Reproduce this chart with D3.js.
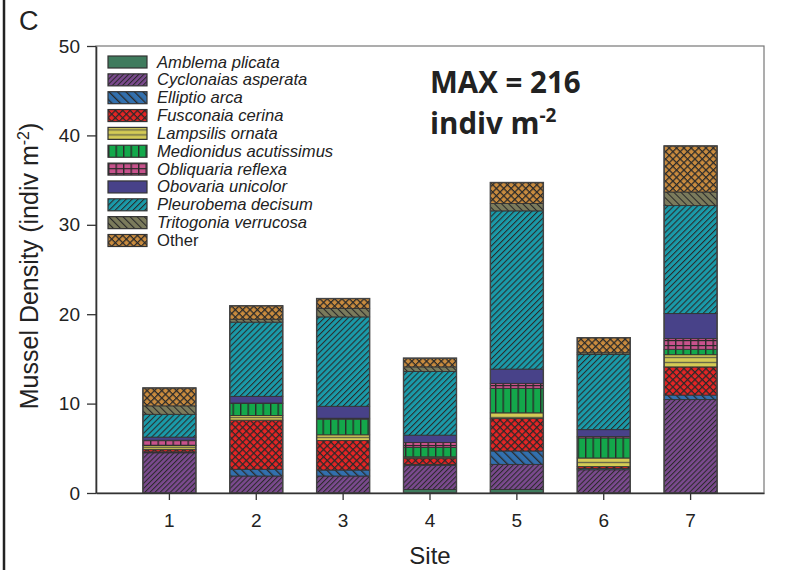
<!DOCTYPE html>
<html lang="en">
  <head>
    <meta charset="UTF-8" />
    <script src="https://cdn.jsdelivr.net/npm/d3@7"></script>
    <style>
      body { margin: 0; background: #fff; }
      text { font-family: "Liberation Sans", Arial, sans-serif; fill: #222; }
    </style>
  </head>
  <body>
    <div id="fig"></div>
    <script>
      const width = 794, height = 570;

      const sites = ["1", "2", "3", "4", "5", "6", "7"];
      const species = [
        "Amblema plicata", "Cyclonaias asperata", "Elliptio arca", "Fusconaia cerina",
        "Lampsilis ornata", "Medionidus acutissimus", "Obliquaria reflexa",
        "Obovaria unicolor", "Pleurobema decisum", "Tritogonia verrucosa", "Other"
      ];
      // density per site (indiv m-2), one array per species, site 1..7
      const amblema     = [0,    0,    0,    0.4,  0.4,  0,    0];
      const cyclonaias  = [4.5,  1.9,  1.9,  2.7,  2.8,  2.6,  10.45];
      const elliptio    = [0.1,  0.75, 0.67, 0.1,  1.5,  0.15, 0.5];
      const fusconaia   = [0.25, 5.5,  3.3,  0.7,  3.65, 0.2,  3.15];
      const lampsilis   = [0.45, 0.52, 0.64, 0.15, 0.62, 0.97, 1.37];
      const medionidus  = [0.05, 1.34, 1.75, 1.04, 2.73, 2.24, 0.6];
      const obliquaria  = [0.55, 0.05, 0.1,  0.56, 0.56, 0.15, 1.2];
      const obovaria    = [0.35, 0.75, 1.34, 0.82, 1.6,  0.78, 2.8];
      const pleurobema  = [2.55, 8.3,  10.0, 7.12, 17.7, 8.4,  12.08];
      const tritogonia  = [0.95, 0.33, 0.95, 0.52, 0.82, 0.2,  1.52];
      const other       = [2.0,  1.5,  1.1,  0.97, 2.35, 1.68, 5.15];
      const seriesValues = [amblema, cyclonaias, elliptio, fusconaia, lampsilis,
        medionidus, obliquaria, obovaria, pleurobema, tritogonia, other];
      const yTicks = [0, 10, 20, 30, 40, 50];

      const colors = ["#3f7b5d", "#7b4a8f", "#3270ae", "#e52424", "#d4cb55", "#13a84b",
        "#c8528c", "#484289", "#1a9aa9", "#7b7b5c", "#c98b3e"];
      const hatch = ["solid", "fwd", "back", "cross", "horiz", "vert", "grid", "solid", "fwd2", "back2", "cross"];

      const margins = { top: 46, right: 30, bottom: 77, left: 96 };

      const svg = d3.select("#fig").append("svg")
        .attr("width", width).attr("height", height);

      const defs = svg.append("defs");
      const ink = "#2a2a2a";
      hatch.forEach((h, i) => {
        const id = "pat" + i;
        let size = 4, rot = 0;
        if (h === "fwd") { size = 3.6; rot = 45; }
        if (h === "fwd2") { size = 4.2; rot = 45; }
        if (h === "back") { size = 6; rot = -45; }
        if (h === "back2") { size = 5; rot = -45; }
        if (h === "cross") { size = 5.2; rot = 45; }
        if (h === "horiz") { size = 5; }
        if (h === "vert") { size = 7.5; }
        const p = defs.append("pattern").attr("id", id)
          .attr("patternUnits", "userSpaceOnUse")
          .attr("width", h === "grid" ? 7.5 : size)
          .attr("height", h === "grid" ? 5 : size);
        if (rot) p.attr("patternTransform", `rotate(${rot})`);
        p.append("rect").attr("width", 10).attr("height", 10).attr("fill", colors[i]);
        if (h === "fwd" || h === "fwd2" || h === "back" || h === "back2") {
          p.append("line").attr("x1", 0.5).attr("x2", 0.5).attr("y1", 0).attr("y2", size)
            .attr("stroke", ink).attr("stroke-width", h === "back" ? 1.6 : 1.1);
        }
        if (h === "cross") {
          p.append("line").attr("x1", 0.6).attr("x2", 0.6).attr("y1", 0).attr("y2", size)
            .attr("stroke", ink).attr("stroke-width", 1.3);
          p.append("line").attr("y1", 0.6).attr("y2", 0.6).attr("x1", 0).attr("x2", size)
            .attr("stroke", ink).attr("stroke-width", 1.3);
        }
        if (h === "horiz") {
          p.append("line").attr("y1", 2.5).attr("y2", 2.5).attr("x1", 0).attr("x2", size)
            .attr("stroke", "#6a6a4a").attr("stroke-width", 1.4);
        }
        if (h === "vert" || h === "grid") {
          p.append("line").attr("x1", 0.7).attr("x2", 0.7).attr("y1", 0).attr("y2", 10)
            .attr("stroke", ink).attr("stroke-width", 1.4);
        }
        if (h === "grid") {
          p.append("line").attr("y1", 0.6).attr("y2", 0.6).attr("x1", 0).attr("x2", 10)
            .attr("stroke", ink).attr("stroke-width", 1.2);
        }
      });

      const x = d3.scaleBand()
        .domain(sites)
        .range([margins.left, width - margins.right])
        .paddingInner(0.39)
        .paddingOuter(0.54);

      const y = d3.scaleLinear()
        .domain([0, 50])
        .range([height - margins.bottom, margins.top]);

      // panel border on the left
      svg.append("line").attr("x1", 4).attr("x2", 4).attr("y1", 0).attr("y2", height)
        .attr("stroke", "#222").attr("stroke-width", 2.5);

      // frame
      svg.append("rect")
        .attr("x", margins.left).attr("y", margins.top)
        .attr("width", width - margins.right - margins.left)
        .attr("height", height - margins.bottom - margins.top)
        .attr("fill", "none").attr("stroke", "#777").attr("stroke-width", 1.2);

      // stacked bars
      const table = sites.map((s, j) => {
        const row = { site: s };
        species.forEach((sp, i) => (row[sp] = seriesValues[i][j]));
        return row;
      });
      const stacked = d3.stack().keys(species)(table);
      const totals = sites.map((s, j) => d3.sum(seriesValues, (v) => v[j]));

      const barG = svg.append("g");
      stacked.forEach((layer, i) => {
        barG.selectAll(null)
          .data(layer)
          .join("rect")
          .attr("x", (d) => x(d.data.site))
          .attr("width", x.bandwidth())
          .attr("y", (d) => y(d[1]))
          .attr("height", (d) => y(d[0]) - y(d[1]))
          .attr("fill", `url(#pat${i})`)
          .attr("stroke", "#333")
          .attr("stroke-width", 0.9);
      });
      // bar outlines
      barG.selectAll(".outline")
        .data(sites)
        .join("rect")
        .attr("class", "outline")
        .attr("x", (d) => x(d))
        .attr("width", x.bandwidth())
        .attr("y", (d, j) => y(totals[j]))
        .attr("height", (d, j) => y(0) - y(totals[j]))
        .attr("fill", "none")
        .attr("stroke", "#444")
        .attr("stroke-width", 1.4);

      // axes
      const yAxis = svg.append("g")
        .attr("transform", `translate(${margins.left},0)`)
        .call(d3.axisLeft(y).tickValues(yTicks).tickSize(9).tickSizeOuter(0).tickPadding(7));
      const xAxis = svg.append("g")
        .attr("transform", `translate(0,${y(0)})`)
        .call(d3.axisBottom(x).tickSize(7).tickSizeOuter(0).tickPadding(14));
      [yAxis, xAxis].forEach((g) => {
        g.select(".domain").attr("stroke", "#333").attr("stroke-width", 1.6);
        g.selectAll(".tick line").attr("stroke", "#333").attr("stroke-width", 1.3);
        g.selectAll(".tick text").style("font-family", "Liberation Sans, Arial, sans-serif")
          .style("font-size", "19px").attr("fill", "#2a2a2a");
      });

      // axis titles
      svg.append("text")
        .attr("transform", "translate(38,266) rotate(-90)")
        .attr("text-anchor", "middle")
        .style("font-size", "25px")
        .html('Mussel Density (indiv m<tspan dy="-9" font-size="16px">-2</tspan><tspan dy="9">)</tspan>');
      svg.append("text")
        .attr("x", (margins.left + width - margins.right) / 2)
        .attr("y", 564)
        .attr("text-anchor", "middle")
        .style("font-size", "24px")
        .text("Site");

      svg.append("text").attr("x", 19).attr("y", 30)
        .style("font-size", "27px").attr("fill", "#333").text("C");

      // legend
      const legend = svg.append("g").attr("transform", "translate(108,56)");
      species.forEach((sp, i) => {
        const row = legend.append("g").attr("transform", `translate(0,${i * 17.85})`);
        row.append("rect").attr("width", 39).attr("height", 12)
          .attr("fill", `url(#pat${i})`).attr("stroke", "#333").attr("stroke-width", 1.2);
        row.append("text").attr("x", 49).attr("y", 11.5)
          .style("font-size", "16.6px")
          .style("font-style", sp === "Other" ? "normal" : "italic")
          .attr("fill", "#333")
          .text(sp);
      });

      // annotation
      const ann = svg.append("g").style("font-weight", "bold");
      ann.append("text").attr("x", 430).attr("y", 93).style("font-size", "29.5px")
        .style("font-family", "Open Sans, sans-serif").attr("fill", "#000").text("MAX = 216");
      ann.append("text").attr("x", 430).attr("y", 134).style("font-size", "29.5px")
        .style("font-family", "Open Sans, sans-serif").attr("fill", "#000")
        .html('indiv m<tspan dy="-12" font-size="19px">-2</tspan>');
    </script>
  </body>
</html>
